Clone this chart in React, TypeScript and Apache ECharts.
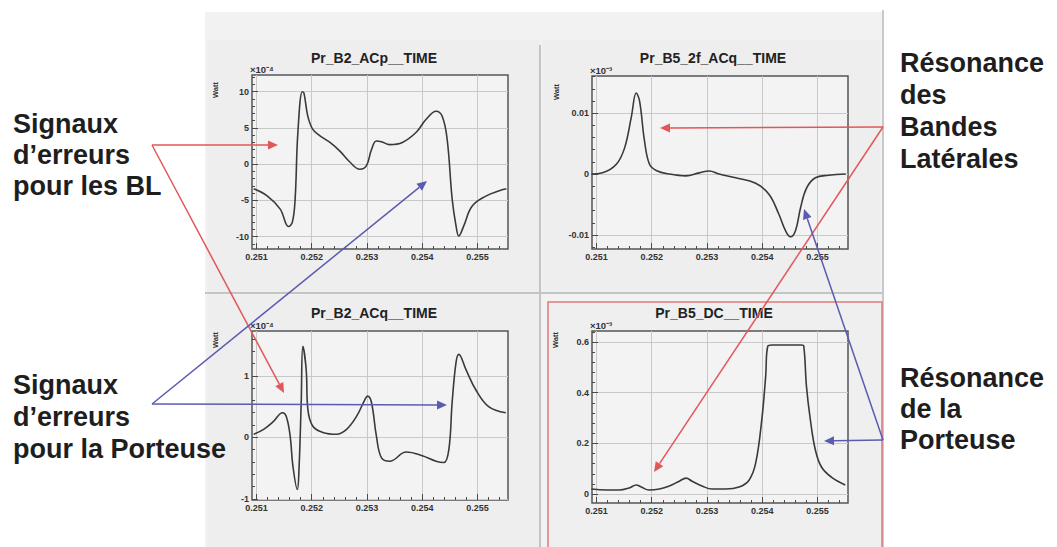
import React, { useEffect, useRef } from "react";
import * as echarts from "echarts";

// ---------- shared time axis ----------
const X_MIN = 0.25092;
const X_MAX = 0.25555;
const xTicks = [0.251, 0.252, 0.253, 0.254, 0.255];
const xTickLabels = ["0.251", "0.252", "0.253", "0.254", "0.255"];

// ---------- Pr_B2_ACp__TIME (x 1e-4 W) ----------
const tlTime = [0.25095, 0.2512, 0.25143, 0.25158, 0.25165, 0.2517, 0.25175, 0.25183, 0.25186, 0.25193, 0.25202, 0.25215, 0.25233, 0.25251, 0.25269, 0.25287, 0.25299, 0.25308, 0.25317, 0.25326, 0.25341, 0.25364, 0.25389, 0.25407, 0.25425, 0.25436, 0.25445, 0.25454, 0.25461, 0.25466, 0.25475, 0.2549, 0.25515, 0.25538, 0.25552];
const tlWatt = [-3.4, -4.4, -6.2, -8.6, -8.0, -4.8, 4.4, 10.0, 9.8, 6.6, 4.8, 3.9, 3.0, 1.8, 0.3, -0.7, -0.2, 2.0, 3.2, 3.1, 2.7, 3.0, 4.4, 6.2, 7.3, 6.6, 3.4, -4.8, -8.5, -9.9, -8.5, -5.8, -4.4, -3.7, -3.4];
const tlYTicks = [-10, -5, 0, 5, 10];
const tlYLabels = ["-10", "-5", "0", "5", "10"];

// ---------- Pr_B5_2f_ACq__TIME ----------
const trTime = [0.25091, 0.25111, 0.25136, 0.25151, 0.25163, 0.25172, 0.25178, 0.25187, 0.25196, 0.25208, 0.25232, 0.25262, 0.25286, 0.25304, 0.25322, 0.25352, 0.25388, 0.25412, 0.2543, 0.25442, 0.25451, 0.2546, 0.25469, 0.2548, 0.25496, 0.2552, 0.25551];
const trWatt = [0, 0.0002, 0.0016, 0.0043, 0.0093, 0.0133, 0.012, 0.0054, 0.0016, 0.0006, 0, -0.0003, 0.0002, 0.0005, 0, -0.0006, -0.0015, -0.0033, -0.0066, -0.0093, -0.0103, -0.0093, -0.0056, -0.0023, -0.0006, -0.0002, 0];
const trYTicks = [-0.01, 0, 0.01];
const trYLabels = ["-0.01", "0", "0.01"];

// ---------- Pr_B2_ACq__TIME ----------
const blTime = [0.25095, 0.25113, 0.25131, 0.25147, 0.25154, 0.25161, 0.25166, 0.25174, 0.25177, 0.25181, 0.25184, 0.2519, 0.25193, 0.25202, 0.2522, 0.25245, 0.25263, 0.25281, 0.25296, 0.25301, 0.25308, 0.25317, 0.25326, 0.25341, 0.25371, 0.254, 0.25425, 0.25439, 0.25448, 0.25454, 0.25461, 0.25466, 0.25479, 0.25497, 0.2552, 0.25551];
const blWatt = [0.05, 0.13, 0.26, 0.4, 0.34, 0.02, -0.47, -0.85, -0.52, 0.57, 1.48, 1.1, 0.46, 0.18, 0.08, 0.05, 0.13, 0.34, 0.61, 0.67, 0.57, 0.02, -0.33, -0.39, -0.24, -0.3, -0.39, -0.41, -0.2, 0.57, 1.22, 1.35, 1.1, 0.77, 0.5, 0.4];
const blYTicks = [-1, 0, 1];
const blYLabels = ["-1", "0", "1"];

// ---------- Pr_B5_DC__TIME ----------
const brTime = [0.25091, 0.25118, 0.25141, 0.25159, 0.25172, 0.25181, 0.25195, 0.25214, 0.25232, 0.2525, 0.25262, 0.25273, 0.25291, 0.25309, 0.25334, 0.25358, 0.25376, 0.25388, 0.25399, 0.25406, 0.2541, 0.25417, 0.25471, 0.25475, 0.2548, 0.25487, 0.25496, 0.25507, 0.25525, 0.2555];
const brWatt = [0.02, 0.016, 0.016, 0.024, 0.036, 0.028, 0.016, 0.02, 0.032, 0.051, 0.063, 0.051, 0.032, 0.02, 0.02, 0.028, 0.055, 0.122, 0.292, 0.462, 0.584, 0.588, 0.588, 0.584, 0.422, 0.292, 0.174, 0.107, 0.067, 0.036];
const brYTicks = [0, 0.2, 0.4, 0.6];
const brYLabels = ["0", "0.2", "0.4", "0.6"];

const FONT = "'Liberation Sans', Arial, Helvetica, sans-serif";

type Panel = {
  title: string;
  exp: string;
  box: [number, number, number, number];
  yMin: number;
  yMax: number;
  yTicks: number[];
  yLabels: string[];
  yMinor: number;
  t: number[];
  v: number[];
  watt: [number, number];
  titleXY: [number, number];
};

const panels: Panel[] = [
  { title: "Pr_B2_ACp__TIME", exp: "×10⁻⁴", box: [252, 75, 256, 174], yMin: -11.7, yMax: 12.3, yTicks: tlYTicks, yLabels: tlYLabels, yMinor: 1, t: tlTime, v: tlWatt, watt: [215, 90], titleXY: [374, 58] },
  { title: "Pr_B5_2f_ACq__TIME", exp: "×10⁻³", box: [592, 76, 256, 173], yMin: -0.0123, yMax: 0.0161, yTicks: trYTicks, yLabels: trYLabels, yMinor: 0.002, t: trTime, v: trWatt, watt: [556, 92], titleXY: [713, 58] },
  { title: "Pr_B2_ACq__TIME", exp: "×10⁻⁴", box: [252, 331, 256, 169], yMin: -1.02, yMax: 1.73, yTicks: blYTicks, yLabels: blYLabels, yMinor: 0.2, t: blTime, v: blWatt, watt: [215, 340], titleXY: [374, 313] },
  { title: "Pr_B5_DC__TIME", exp: "×10⁻³", box: [592, 331, 256, 172], yMin: -0.035, yMax: 0.643, yTicks: brYTicks, yLabels: brYLabels, yMinor: 0.04, t: brTime, v: brWatt, watt: [555, 340], titleXY: [714, 313] },
];

function minorValues(min: number, max: number, step: number): number[] {
  const out: number[] = [];
  const k0 = Math.ceil(min / step - 1e-9);
  const k1 = Math.floor(max / step + 1e-9);
  for (let k = k0; k <= k1; k++) out.push(Number((k * step).toFixed(8)));
  return out;
}

function labelFor(ticks: number[], labels: string[]) {
  return (v: number) => {
    const i = ticks.findIndex((t) => Math.abs(t - v) < 1e-9);
    return i >= 0 ? labels[i] : "";
  };
}

function arrow(x1: number, y1: number, x2: number, y2: number, color: string) {
  const ang = Math.atan2(y2 - y1, x2 - x1);
  const L = 10, W = 4.5;
  const bx = x2 - L * Math.cos(ang), by = y2 - L * Math.sin(ang);
  const px = -Math.sin(ang) * W, py = Math.cos(ang) * W;
  return [
    { type: "line", z: 100, shape: { x1, y1, x2: bx, y2: by }, style: { stroke: color, lineWidth: 1.5 } },
    { type: "polygon", z: 100, shape: { points: [[x2, y2], [bx + px, by + py], [bx - px, by - py]] }, style: { fill: color } },
  ];
}

function textLines(x: number, baselines: number[], lines: string[]) {
  return lines.map((s, i) => ({
    type: "text",
    z: 100,
    x,
    y: baselines[i] - 9.4,
    style: { text: s, fontSize: 27, fontWeight: "bold", fontFamily: FONT, fill: "#1e1e1e", textAlign: "left", textVerticalAlign: "middle" },
  }));
}

function buildOption() {
  const grids: any[] = [];
  const xAxes: any[] = [];
  const yAxes: any[] = [];
  const series: any[] = [];
  const graphics: any[] = [];

  const RED = "#e2575a";
  const BLUE = "#5b5bb0";

  // canvas background & pads
  graphics.push({ type: "rect", z: -5, shape: { x: 205, y: 12, width: 678, height: 540 }, style: { fill: "#f2f2f2" } });
  graphics.push({ type: "rect", z: -4, shape: { x: 207, y: 40, width: 333, height: 252 }, style: { fill: "#eeeeee" } });
  graphics.push({ type: "rect", z: -4, shape: { x: 542, y: 40, width: 338, height: 252 }, style: { fill: "#eeeeee" } });
  graphics.push({ type: "rect", z: -4, shape: { x: 207, y: 295, width: 333, height: 252 }, style: { fill: "#eeeeee" } });
  graphics.push({ type: "rect", z: -4, shape: { x: 548, y: 302, width: 334, height: 250 }, style: { fill: "#efefef" } });
  graphics.push({ type: "line", z: -3, shape: { x1: 540, y1: 45, x2: 540, y2: 547 }, style: { stroke: "#c4c4c4", lineWidth: 2 } });
  graphics.push({ type: "line", z: -3, shape: { x1: 205, y1: 293, x2: 882, y2: 293 }, style: { stroke: "#c4c4c4", lineWidth: 2 } });
  graphics.push({ type: "line", z: -3, shape: { x1: 883, y1: 10, x2: 883, y2: 547 }, style: { stroke: "#b8b8b8", lineWidth: 1.5 } });
  graphics.push({ type: "rect", z: 50, shape: { x: 548, y: 302, width: 334, height: 250 }, style: { fill: "none", stroke: "#e07a7a", lineWidth: 1.5 } });

  const xMinor = minorValues(X_MIN, X_MAX, 0.0002);

  panels.forEach((p, i) => {
    const [left, top, width, height] = p.box;
    grids.push({ left, top, width, height, show: true, backgroundColor: "#f3f3f3", borderColor: "#555555", borderWidth: 1.5, containLabel: false });
    xAxes.push({
      gridIndex: i, type: "value", position: "bottom", min: X_MIN, max: X_MAX,
      axisLine: { show: false, onZero: false },
      axisTick: { show: true, inside: true, length: 6, customValues: xTicks, lineStyle: { color: "#4a4a4a", width: 1 } },
      axisLabel: { show: true, customValues: xTicks, margin: 3, fontSize: 9, fontWeight: "bold", fontFamily: FONT, color: "#333", formatter: labelFor(xTicks, xTickLabels) },
      splitLine: { show: true, lineStyle: { color: "#c9c9c9", width: 1 } },
    });
    xAxes.push({
      gridIndex: i, type: "value", position: "bottom", min: X_MIN, max: X_MAX,
      axisLine: { show: false, onZero: false },
      axisTick: { show: true, inside: true, length: 3, customValues: xMinor, lineStyle: { color: "#4a4a4a", width: 1 } },
      axisLabel: { show: false },
      splitLine: { show: false },
    });
    yAxes.push({
      gridIndex: i, type: "value", position: "left", min: p.yMin, max: p.yMax,
      axisLine: { show: false, onZero: false },
      axisTick: { show: true, inside: true, length: 6, customValues: p.yTicks, lineStyle: { color: "#4a4a4a", width: 1 } },
      axisLabel: { show: true, customValues: p.yTicks, margin: 3, fontSize: 9, fontWeight: "bold", fontFamily: FONT, color: "#333", formatter: labelFor(p.yTicks, p.yLabels) },
      splitLine: { show: true, lineStyle: { color: "#c9c9c9", width: 1 } },
    });
    yAxes.push({
      gridIndex: i, type: "value", position: "left", min: p.yMin, max: p.yMax,
      axisLine: { show: false, onZero: false },
      axisTick: { show: true, inside: true, length: 3, customValues: minorValues(p.yMin, p.yMax, p.yMinor), lineStyle: { color: "#4a4a4a", width: 1 } },
      axisLabel: { show: false },
      splitLine: { show: false },
    });
    series.push({
      type: "line", xAxisIndex: 2 * i, yAxisIndex: 2 * i,
      data: p.t.map((t, k) => [t, p.v[k]]),
      showSymbol: false, smooth: 0.4,
      lineStyle: { color: "#3a3a3a", width: 1.6 },
      silent: true,
    });
    graphics.push({ type: "text", z: 20, x: p.titleXY[0], y: p.titleXY[1], style: { text: p.title, fontSize: 14, fontWeight: "bold", fontFamily: FONT, fill: "#222", textAlign: "center", textVerticalAlign: "middle" } });
    graphics.push({ type: "text", z: 20, x: left - 2, y: top - 6, style: { text: p.exp, fontSize: 9.5, fontWeight: "bold", fontFamily: FONT, fill: "#333", textAlign: "left", textVerticalAlign: "middle" } });
    graphics.push({ type: "text", z: 20, x: p.watt[0], y: p.watt[1], rotation: Math.PI / 2, style: { text: "Watt", fontSize: 7.5, fontWeight: "bold", fontFamily: FONT, fill: "#333", textAlign: "center", textVerticalAlign: "middle" } });
  });

  // annotations
  graphics.push(...textLines(13, [133, 164, 195], ["Signaux", "d\u2019erreurs", "pour les BL"]));
  graphics.push(...textLines(13, [394, 426, 458], ["Signaux", "d\u2019erreurs", "pour la Porteuse"]));
  graphics.push(...textLines(900, [72, 104, 136, 168], ["Résonance", "des", "Bandes", "Latérales"]));
  graphics.push(...textLines(900, [387, 418, 449], ["Résonance", "de la", "Porteuse"]));

  graphics.push(...arrow(152, 145, 278, 145, RED));
  graphics.push(...arrow(152, 145, 284, 393, RED));
  graphics.push(...arrow(883, 127, 660, 128, RED));
  graphics.push(...arrow(883, 127, 654, 472, RED));
  graphics.push(...arrow(152, 404, 447, 405, BLUE));
  graphics.push(...arrow(152, 404, 427, 181, BLUE));
  graphics.push(...arrow(883, 440, 824, 441, BLUE));
  graphics.push(...arrow(883, 440, 804, 209, BLUE));

  return {
    animation: false,
    backgroundColor: "#ffffff",
    grid: grids,
    xAxis: xAxes,
    yAxis: yAxes,
    series,
    graphic: { elements: graphics },
  };
}

export default function App() {
  const ref = useRef<HTMLDivElement>(null);
  useEffect(() => {
    const chart = echarts.init(ref.current!, null, { renderer: "svg" });
    chart.setOption(buildOption() as any);
    return () => chart.dispose();
  }, []);
  return <div ref={ref} style={{ position: "absolute", left: 0, top: 0, width: 1057, height: 547 }} />;
}
